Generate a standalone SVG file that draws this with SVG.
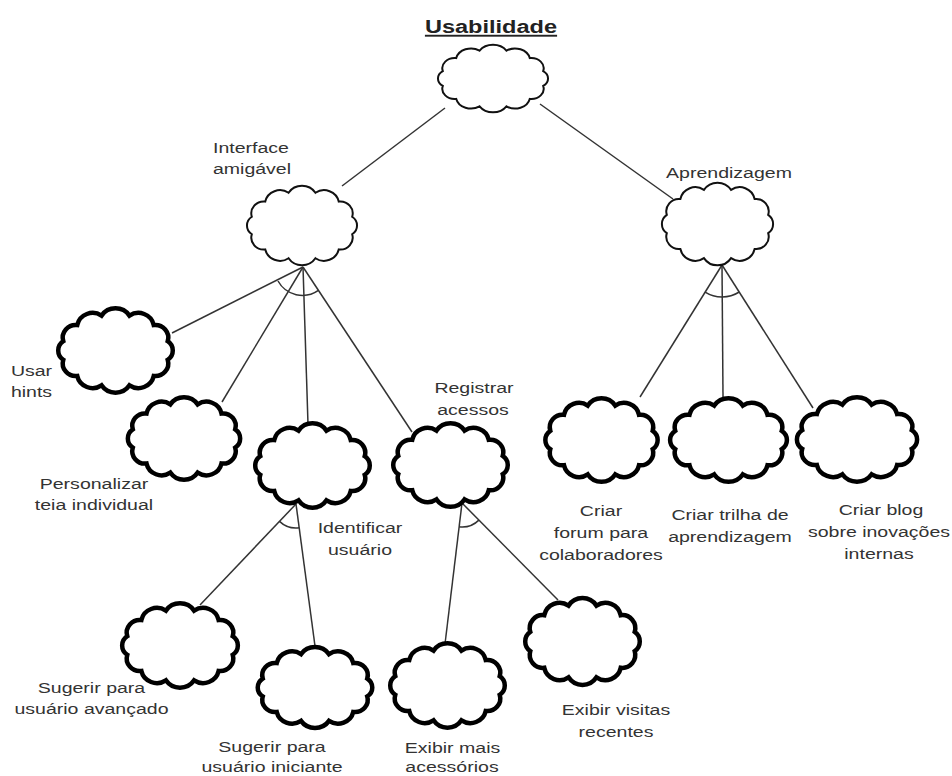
<svg xmlns="http://www.w3.org/2000/svg" xmlns:xlink="http://www.w3.org/1999/xlink" width="952" height="776" viewBox="0 0 952 776">
<style>
.bg{fill:#fff}
.thin{fill:#fff;stroke:#111;stroke-width:2}
.thick{fill:#fff;stroke:#000;stroke-width:4.5}
.ln{fill:none;stroke:#333;stroke-width:1.5}
.lbl{font-family:"Liberation Sans",Arial,sans-serif;font-size:15.5px;fill:#333;text-anchor:middle}
.title{font-family:"Liberation Sans",Arial,sans-serif;font-size:19px;font-weight:bold;fill:#222;text-anchor:middle;text-decoration:underline}
</style>
<defs>
<path id="cloud" vector-effect="non-scaling-stroke" d="M 51.2 -9.3 A 11.2 11.2 0 0 1 51.2 9.3 A 12.7 12.7 0 0 1 37.5 25.5 A 15.4 15.4 0 0 1 13.7 34.8 A 16.4 16.4 0 0 1 -13.7 34.8 A 15.4 15.4 0 0 1 -37.5 25.5 A 12.7 12.7 0 0 1 -51.2 9.3 A 11.2 11.2 0 0 1 -51.2 -9.3 A 12.7 12.7 0 0 1 -37.5 -25.5 A 15.4 15.4 0 0 1 -13.7 -34.8 A 16.4 16.4 0 0 1 13.7 -34.8 A 15.4 15.4 0 0 1 37.5 -25.5 A 12.7 12.7 0 0 1 51.2 -9.3 Z"/>
</defs>
<rect class="bg" x="0" y="0" width="952" height="776"/>
<text class="title" transform="translate(491,33) scale(1.24,1)">Usabilidade</text>

<g id="connectors">
<line class="ln" x1="445" y1="108" x2="342" y2="186"/>
<line class="ln" x1="540" y1="104" x2="673" y2="199"/>
<line class="ln" x1="303" y1="267" x2="172" y2="333"/>
<line class="ln" x1="303" y1="267" x2="222" y2="402"/>
<line class="ln" x1="303" y1="267" x2="308" y2="424"/>
<line class="ln" x1="303" y1="267" x2="412" y2="432"/>
<path class="ln" d="M 278 281 A 28 28 0 0 0 318.4 290.4"/>
<line class="ln" x1="722" y1="265" x2="640" y2="397"/>
<line class="ln" x1="722" y1="265" x2="723" y2="397"/>
<line class="ln" x1="722" y1="265" x2="813" y2="408"/>
<path class="ln" d="M 705.1 292.2 A 32 32 0 0 0 739.2 292"/>
<line class="ln" x1="296" y1="504" x2="200" y2="605"/>
<line class="ln" x1="296" y1="504" x2="315" y2="646"/>
<path class="ln" d="M 279.5 521.4 A 24 24 0 0 0 299.2 527.8"/>
<line class="ln" x1="462" y1="503" x2="445" y2="644"/>
<line class="ln" x1="462" y1="503" x2="558" y2="600"/>
<path class="ln" d="M 459.1 526.8 A 24 24 0 0 0 478.9 520.1"/>
</g>

<g id="n-usabilidade"><use xlink:href="#cloud" class="thin" transform="translate(493,78.5) scale(0.98,0.8)"/></g>
<g id="n-interface"><use xlink:href="#cloud" class="thin" transform="translate(302,225.5) scale(0.98,0.94)"/>
<text class="lbl" transform="translate(251,153) scale(1.26,1)">Interface</text>
<text class="lbl" transform="translate(252,174) scale(1.26,1)">amigável</text></g>
<g id="n-aprendizagem"><use xlink:href="#cloud" class="thin" transform="translate(717.5,224) scale(0.99,0.98)"/>
<text class="lbl" transform="translate(729,178) scale(1.26,1)">Aprendizagem</text></g>
<g id="n-usar-hints"><use xlink:href="#cloud" class="thick" transform="translate(115.5,350.5) scale(1.02,1.0)"/>
<text class="lbl" transform="translate(31.5,376) scale(1.26,1)">Usar</text>
<text class="lbl" transform="translate(31.5,397) scale(1.26,1)">hints</text></g>
<g id="n-personalizar"><use xlink:href="#cloud" class="thick" transform="translate(184,438.5) scale(1.0,0.98)"/>
<text class="lbl" transform="translate(94,489) scale(1.26,1)">Personalizar</text>
<text class="lbl" transform="translate(94,510) scale(1.26,1)">teia individual</text></g>
<g id="n-identificar"><use xlink:href="#cloud" class="thick" transform="translate(312.5,465.5) scale(1.02,1.0)"/>
<text class="lbl" transform="translate(360,533) scale(1.26,1)">Identificar</text>
<text class="lbl" transform="translate(360,555) scale(1.26,1)">usuário</text></g>
<g id="n-registrar"><use xlink:href="#cloud" class="thick" transform="translate(450.5,465) scale(1.02,0.99)"/>
<text class="lbl" transform="translate(474,393) scale(1.26,1)">Registrar</text>
<text class="lbl" transform="translate(473,415) scale(1.26,1)">acessos</text></g>
<g id="n-criar-forum"><use xlink:href="#cloud" class="thick" transform="translate(601.5,440) scale(1.0,0.99)"/>
<text class="lbl" transform="translate(601,516) scale(1.26,1)">Criar</text>
<text class="lbl" transform="translate(601,538) scale(1.26,1)">forum para</text>
<text class="lbl" transform="translate(601,560) scale(1.26,1)">colaboradores</text></g>
<g id="n-criar-trilha"><use xlink:href="#cloud" class="thick" transform="translate(728.5,440) scale(1.04,0.99)"/>
<text class="lbl" transform="translate(730,520) scale(1.26,1)">Criar trilha de</text>
<text class="lbl" transform="translate(730,542) scale(1.26,1)">aprendizagem</text></g>
<g id="n-criar-blog"><use xlink:href="#cloud" class="thick" transform="translate(857,439.5) scale(1.07,1.0)"/>
<text class="lbl" transform="translate(881,515) scale(1.26,1)">Criar blog</text>
<text class="lbl" transform="translate(879,537) scale(1.26,1)">sobre inovações</text>
<text class="lbl" transform="translate(879,559) scale(1.26,1)">internas</text></g>
<g id="n-sugerir-avancado"><use xlink:href="#cloud" class="thick" transform="translate(180,645.5) scale(1.03,1.0)"/>
<text class="lbl" transform="translate(91.5,693) scale(1.26,1)">Sugerir para</text>
<text class="lbl" transform="translate(91.5,714) scale(1.26,1)">usuário avançado</text></g>
<g id="n-sugerir-iniciante"><use xlink:href="#cloud" class="thick" transform="translate(315,687.5) scale(1.02,0.96)"/>
<text class="lbl" transform="translate(272,752) scale(1.26,1)">Sugerir para</text>
<text class="lbl" transform="translate(272,772) scale(1.26,1)">usuário iniciante</text></g>
<g id="n-exibir-mais"><use xlink:href="#cloud" class="thick" transform="translate(447.5,685.5) scale(1.02,1.0)"/>
<text class="lbl" transform="translate(452.5,753) scale(1.26,1)">Exibir mais</text>
<text class="lbl" transform="translate(452,772) scale(1.26,1)">acessórios</text></g>
<g id="n-exibir-visitas"><use xlink:href="#cloud" class="thick" transform="translate(582.5,641.5) scale(1.02,1.03)"/>
<text class="lbl" transform="translate(616,715) scale(1.26,1)">Exibir visitas</text>
<text class="lbl" transform="translate(616,737) scale(1.26,1)">recentes</text></g>
</svg>
